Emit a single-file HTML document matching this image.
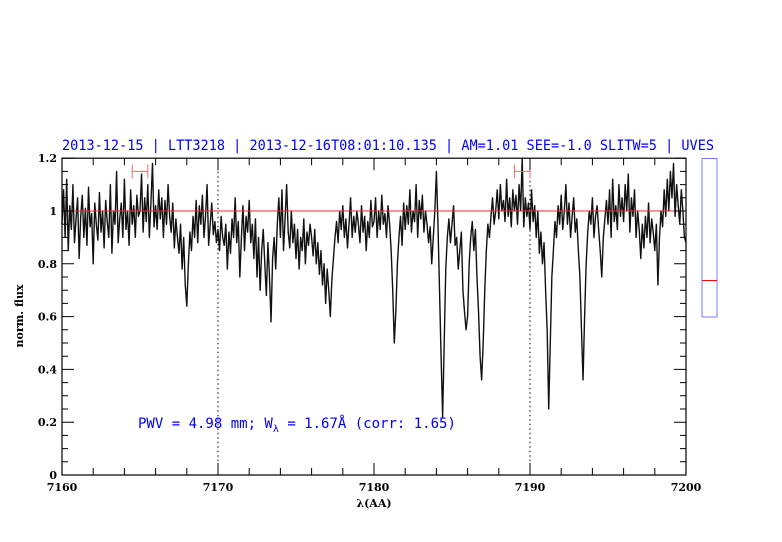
<!DOCTYPE html>
<html><head><meta charset="utf-8"><style>
body{margin:0;background:#fff;}
svg{display:block;font-family:"DejaVu Serif","Liberation Serif",serif;}
</style></head><body>
<svg id="chart" width="782" height="542" viewBox="0 0 782 542" xmlns="http://www.w3.org/2000/svg">
<rect width="782" height="542" fill="#fff"/>
<text x="388" y="150" text-anchor="middle" fill="#0000ff" font-size="14.5" font-family="DejaVu Sans Mono, Liberation Mono, monospace" textLength="652" lengthAdjust="spacingAndGlyphs">2013-12-15 | LTT3218 | 2013-12-16T08:01:10.135 | AM=1.01 SEE=-1.0 SLITW=5 | UVES</text>
<g id="plot"></g>
<text x="138" y="428" fill="#0000ff" font-size="14" font-family="DejaVu Sans Mono, Liberation Mono, monospace">PWV = 4.98 mm; W<tspan font-size="10" dy="4">λ</tspan><tspan dy="-4"> = 1.67Å (corr: 1.65)</tspan></text>
<text x="374" y="507" text-anchor="middle" font-size="11" font-weight="bold">λ(AA)</text>
<text transform="translate(23,316) rotate(-90)" text-anchor="middle" font-size="11" font-weight="bold">norm. flux</text>
<rect x="702" y="158.5" width="15" height="158.5" fill="none" stroke="#7777ff" stroke-width="1"/>
<line x1="702" y1="280.5" x2="717" y2="280.5" stroke="#ff0000" stroke-width="1"/>
</svg>
<script>
const xStart = 7160, xStep = 0.1;
const flux = [
0.95,1.08,0.9,1.12,0.85,1.02,0.93,1.1,0.88,0.97,
1.05,0.82,0.98,1.06,0.9,1.01,0.87,1.09,0.94,0.99,
0.8,1.03,0.95,0.89,1.07,0.92,1.0,0.86,1.04,0.96,
0.9,1.1,0.84,1.0,0.95,1.15,0.88,0.97,1.03,0.9,
1.12,0.93,1.0,0.87,1.08,0.95,1.02,0.9,1.06,0.98,
1.0,1.14,0.92,1.05,0.96,1.1,0.9,1.03,1.18,0.94,
1.02,0.93,1.08,0.97,1.05,0.9,1.04,0.95,1.1,0.98,
0.92,1.03,0.86,0.97,0.9,0.84,0.95,0.78,0.9,0.72,
0.64,0.8,0.92,0.85,0.98,0.9,1.04,0.88,1.02,0.95,
1.06,0.9,0.98,1.1,0.87,0.95,1.03,0.91,0.96,0.88,
0.93,0.85,0.98,0.9,0.87,0.95,0.78,0.92,0.84,0.97,
0.9,1.05,0.88,0.96,0.75,0.9,1.02,0.85,0.98,0.92,
1.04,0.88,0.95,0.82,0.97,0.75,0.9,0.7,0.85,0.93,
0.8,0.68,0.88,0.75,0.58,0.82,0.9,0.78,0.95,1.05,
0.9,1.08,0.85,0.97,1.1,0.92,0.86,1.0,0.88,0.95,
0.82,0.93,0.78,0.9,0.85,0.97,0.8,0.92,0.87,0.95,
0.9,0.83,0.93,0.8,0.88,0.76,0.85,0.72,0.8,0.65,
0.78,0.7,0.6,0.74,0.82,0.9,0.96,0.88,1.0,0.93,
1.02,0.9,0.97,0.86,0.95,1.05,0.9,0.98,0.92,1.0,
0.95,0.88,1.02,0.92,0.98,0.85,0.96,0.9,1.04,0.94,
0.96,1.05,0.9,1.0,0.93,1.06,0.95,0.99,0.9,1.02,
0.95,0.85,0.7,0.5,0.62,0.8,0.9,0.98,0.87,1.03,
0.93,1.02,0.95,1.08,0.92,1.0,0.96,1.1,0.9,1.04,
0.97,1.06,0.92,1.0,0.95,0.88,0.94,0.8,0.9,1.0,
1.15,0.95,0.7,0.45,0.22,0.5,0.78,0.9,0.97,0.88,
0.95,1.02,0.87,0.9,0.78,0.85,0.92,0.7,0.62,0.55,
0.6,0.8,0.9,0.96,0.85,0.93,0.75,0.62,0.45,0.36,
0.5,0.7,0.85,0.95,0.9,0.98,1.05,0.95,1.0,1.08,
0.97,1.1,1.0,1.04,0.96,1.12,0.98,1.05,0.94,1.08,
1.0,1.06,0.95,1.1,1.0,1.2,0.94,1.05,0.98,1.03,
0.93,1.08,0.96,1.02,0.9,1.0,0.84,0.92,0.8,0.88,
0.7,0.55,0.25,0.5,0.75,0.85,0.96,0.9,1.02,0.95,
1.06,0.93,1.0,1.1,0.95,1.03,0.9,0.98,1.05,0.92,
0.97,0.85,0.75,0.55,0.36,0.6,0.8,0.92,1.0,0.95,
1.05,0.9,0.98,1.02,0.93,0.85,0.75,0.9,0.97,1.04,
0.95,1.08,0.9,1.12,0.96,1.02,0.93,1.1,0.98,1.05,
0.96,1.1,1.0,1.14,0.92,1.05,0.98,1.08,0.9,1.0,
0.93,0.82,0.95,0.86,0.98,0.9,1.03,0.88,0.97,0.92,
0.85,0.95,0.72,0.9,1.0,0.94,1.08,0.98,1.12,1.0,
1.15,1.05,1.18,0.98,1.1,1.02,0.95,1.08,1.0,0.9,
0.88];
const xTickLabels = ["7160","7170","7180","7190","7200"];
const yTickLabels = ["0","0.2","0.4","0.6","0.8","1","1.2"];
const errorBarCenters = [7165, 7189.5];
const errorBarHalfWidths = [0.5, 0.5];
const errorBarLevel = [1.15, 1.15];
const dottedLines = [7170, 7190];

const X0=62, X1=686, Y0=475, Y1=158.2;
const xmin=7160, xmax=7200, ymin=0, ymax=1.2;
const sx = v => X0 + (v-xmin)/(xmax-xmin)*(X1-X0);
const sy = v => Y0 - (Math.min(v,ymax)-ymin)/(ymax-ymin)*(Y0-Y1);
const NS="http://www.w3.org/2000/svg";
const g=document.getElementById('plot');
function mk(tag, attrs){const e=document.createElementNS(NS,tag);for(const k in attrs)e.setAttribute(k,attrs[k]);g.appendChild(e);return e;}

dottedLines.forEach(v=>{
  const l=mk('line',{x1:sx(v),x2:sx(v),y1:Y1,y2:Y0,stroke:'#000','stroke-width':1,'stroke-dasharray':'1.5,3'});
  
  
});
let d='';
flux.forEach((f,i)=>{d+=(i?'L':'M')+sx(xStart+i*xStep).toFixed(2)+','+sy(f).toFixed(2);});
const p=mk('path',{d:d,fill:'none',stroke:'#111','stroke-width':1.4,'stroke-linejoin':'round'});


const cl=mk('line',{x1:X0,x2:X1,y1:sy(1),y2:sy(1),stroke:'#e03030','stroke-width':1});


errorBarCenters.forEach((c,i)=>{
  const a=sx(c-errorBarHalfWidths[i]), b=sx(c+errorBarHalfWidths[i]), y=sy(errorBarLevel[i]);
  const e=mk('path',{d:`M${a},${y}H${b}M${a},${y-7}V${y+7}M${b},${y-7}V${y+7}`,stroke:'#ff6666',fill:'none','stroke-width':1});
  
  
});
const fr=mk('rect',{x:X0,y:Y1,width:X1-X0,height:Y0-Y1,fill:'none',stroke:'#000','stroke-width':1.2});


for(let v=xmin; v<=xmax; v+=2){
  const major=(v%10===0), len=major?12:7;
  const t=mk('path',{d:`M${sx(v)},${Y0}v${-len}M${sx(v)},${Y1}v${len}`,stroke:'#000','stroke-width':1});
  
  
}
xTickLabels.forEach(s=>{
  const t=mk('text',{x:sx(+s),y:Y0+16,'text-anchor':'middle','font-size':11,'font-weight':'bold'});
  t.textContent=s;
  
  
});
for(let k=0;k<=24;k++){
  const v=k*0.05, major=(k%4===0), len=major?12:6;
  const t=mk('path',{d:`M${X0},${sy(v)}h${len}M${X1},${sy(v)}h${-len}`,stroke:'#000','stroke-width':1});
  
  
}
yTickLabels.forEach(s=>{
  const t=mk('text',{x:X0-5,y:sy(+s)+4,'text-anchor':'end','font-size':11,'font-weight':'bold'});
  t.textContent=s;
  
  
});
</script>
</body></html>
